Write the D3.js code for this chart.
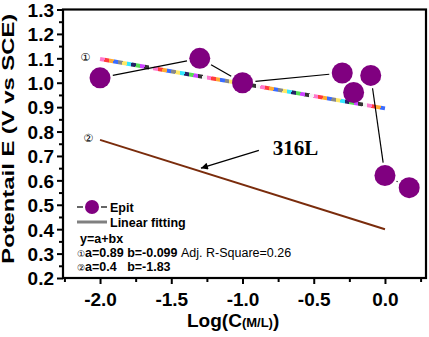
<!DOCTYPE html>
<html><head><meta charset="utf-8">
<script src="https://cdn.jsdelivr.net/npm/d3@7"></script>
<style>body{margin:0;background:#fff}svg{display:block}</style>
</head><body>
<script>
// data
const logC = [-2.0, -1.3, -1.0, -0.3, -0.22, -0.1, 0.0, 0.17];
const epit = [1.02, 1.10, 1.00, 1.04, 0.96, 1.03, 0.62, 0.57];
const fit1X = [-2.0, 0.0];
const fit1Y = [1.097, 0.895];
const fit2X = [-2.0, 0.0];
const fit2Y = [0.766, 0.40];
const xTicks = [-2.0, -1.5, -1.0, -0.5, 0.0];
const xTickLabels = ["-2.0", "-1.5", "-1.0", "-0.5", "0.0"];
const yTicks = [0.2, 0.3, 0.4, 0.5, 0.6, 0.7, 0.8, 0.9, 1.0, 1.1, 1.2, 1.3];
const yTickLabels = ["0.2","0.3","0.4","0.5","0.6","0.7","0.8","0.9","1.0","1.1","1.2","1.3"];
const xMinor = [-2.25, -1.75, -1.25, -0.75, -0.25, 0.25];
const yMinor = [0.25, 0.35, 0.45, 0.55, 0.65, 0.75, 0.85, 0.95, 1.05, 1.15, 1.25];

const W = 429, H = 337;
const L = 63, R = 426, T = 9.5, B = 278;
const svg = d3.select("body").append("svg").attr("width", W).attr("height", H);
const x = d3.scaleLinear().domain([-2.26, 0.288]).range([L, R]);
const y = d3.scaleLinear().domain([0.2, 1.3]).range([B, T]);
const font = "'Liberation Sans', Arial, sans-serif";

// axes ticks
const xAx = svg.append("g").attr("transform", `translate(0,${B})`)
  .call(d3.axisBottom(x).tickValues(xTicks).tickFormat((d, i) => xTickLabels[i]).tickSize(6).tickPadding(9));
const xAxm = svg.append("g").attr("transform", `translate(0,${B})`)
  .call(d3.axisBottom(x).tickValues(xMinor).tickFormat("").tickSize(4));
const yAx = svg.append("g").attr("transform", `translate(${L},0)`)
  .call(d3.axisLeft(y).tickValues(yTicks).tickFormat((d, i) => yTickLabels[i]).tickSize(6).tickPadding(3));
const yAxm = svg.append("g").attr("transform", `translate(${L},0)`)
  .call(d3.axisLeft(y).tickValues(yMinor).tickFormat("").tickSize(4));
[xAx, xAxm, yAx, yAxm].forEach(g => {
  g.select(".domain").remove();
  g.selectAll(".tick line").attr("stroke", "#000").attr("stroke-width", 2);
  g.selectAll("text").attr("fill", "#000").attr("font-family", font).attr("font-weight", "bold").attr("font-size", 19);
});
yAx.selectAll("text").attr("dy", "0.36em");

// frame
svg.append("rect").attr("x", L).attr("y", T).attr("width", R - L).attr("height", B - T)
  .attr("fill", "none").attr("stroke", "#000").attr("stroke-width", 2.2);

// axis titles
svg.append("text").attr("transform", `translate(14,${(T + B) / 2 - 5}) rotate(-90)`)
  .attr("text-anchor", "middle").attr("font-family", font).attr("font-weight", "bold")
  .attr("font-size", 17).attr("textLength", 250).attr("lengthAdjust", "spacingAndGlyphs")
  .text("Potentail E (V vs SCE)");
const xt = svg.append("text").attr("x", 187).attr("y", 327).attr("font-family", font)
  .attr("font-weight", "bold").attr("font-size", 19);
xt.append("tspan").text("Log(C");
xt.append("tspan").attr("font-size", 13).text("(M/L)");
xt.append("tspan").text(")");

// rainbow gradient for fit 1
const defs = svg.append("defs");
const grad = defs.append("linearGradient").attr("id", "rb").attr("gradientUnits", "userSpaceOnUse")
  .attr("x1", x(fit1X[0])).attr("y1", y(fit1Y[0])).attr("x2", x(fit1X[1])).attr("y2", y(fit1Y[1]));
const pal = ["#ff77cc", "#ffe866", "#333333", "#3a6cff", "#55dd55", "#ff3b3b", "#33e6ff", "#f4f4f4", "#888888", "#cc44ff", "#ffaa33", "#222266"];
const nSeg = 64;
for (let i = 0; i < nSeg; i++) {
  const c = pal[(i * 5) % pal.length];
  grad.append("stop").attr("offset", i / nSeg).attr("stop-color", c);
  grad.append("stop").attr("offset", (i + 1) / nSeg).attr("stop-color", c);
}
const line = d3.line().x(d => x(d[0])).y(d => y(d[1]));
svg.append("path").attr("d", line(d3.zip(fit1X, fit1Y))).attr("stroke", "url(#rb)")
  .attr("stroke-width", 4).attr("fill", "none");
svg.append("path").attr("d", line(d3.zip(fit2X, fit2Y))).attr("stroke", "#7a2c0c")
  .attr("stroke-width", 2).attr("fill", "none");

// connecting lines with gaps
const r = 10.5, gap = 2.5;
for (let i = 0; i < logC.length - 1; i++) {
  const x1 = x(logC[i]), y1 = y(epit[i]), x2 = x(logC[i + 1]), y2 = y(epit[i + 1]);
  const dx = x2 - x1, dy = y2 - y1, len = Math.hypot(dx, dy);
  const off = r + gap;
  if (len <= 2 * off) continue;
  const ux = dx / len, uy = dy / len;
  svg.append("line").attr("x1", x1 + ux * off).attr("y1", y1 + uy * off)
    .attr("x2", x2 - ux * off).attr("y2", y2 - uy * off).attr("stroke", "#000").attr("stroke-width", 1.2);
}
svg.selectAll("circle.pt").data(d3.zip(logC, epit)).enter().append("circle").attr("class", "pt")
  .attr("cx", d => x(d[0])).attr("cy", d => y(d[1])).attr("r", r).attr("fill", "#800080");

// labels
svg.append("text").attr("x", x(-2.105)).attr("y", y(1.104)).attr("dy", "0.35em").attr("text-anchor", "middle")
  .attr("font-family", "'DejaVu Sans'").attr("font-size", 11).text("①");
svg.append("text").attr("x", x(-2.084)).attr("y", y(0.772)).attr("dy", "0.35em").attr("text-anchor", "middle")
  .attr("font-family", "'DejaVu Sans'").attr("font-size", 11).text("②");
svg.append("text").attr("x", x(-0.787)).attr("y", y(0.703)).attr("font-family", "'Liberation Serif', 'Times New Roman', serif")
  .attr("font-weight", "bold").attr("font-size", 21).text("316L");
defs.append("marker").attr("id", "ah").attr("viewBox", "0 0 10 10").attr("refX", 10).attr("refY", 5)
  .attr("markerWidth", 9).attr("markerHeight", 7).attr("markerUnits", "userSpaceOnUse").attr("orient", "auto")
  .append("path").attr("d", "M0,0 L10,5 L0,10 Z").attr("fill", "#000");
svg.append("line").attr("x1", x(-0.885)).attr("y1", y(0.723)).attr("x2", x(-1.292)).attr("y2", y(0.65))
  .attr("stroke", "#000").attr("stroke-width", 1.2).attr("marker-end", "url(#ah)");

// legend
const lg = svg.append("g");
lg.append("line").attr("x1", 77).attr("x2", 83).attr("y1", 207).attr("y2", 207).attr("stroke", "#000").attr("stroke-width", 1.2);
lg.append("line").attr("x1", 101).attr("x2", 107).attr("y1", 207).attr("y2", 207).attr("stroke", "#000").attr("stroke-width", 1.2);
lg.append("circle").attr("cx", 92).attr("cy", 207).attr("r", 7).attr("fill", "#800080");
lg.append("text").attr("x", 110).attr("y", 211.5).attr("font-family", font).attr("font-weight", "bold").attr("font-size", 12.5).text("Epit");
lg.append("line").attr("x1", 77).attr("x2", 107).attr("y1", 222).attr("y2", 222).attr("stroke", "#808080").attr("stroke-width", 3);
lg.append("text").attr("x", 110).attr("y", 226.5).attr("font-family", font).attr("font-weight", "bold").attr("font-size", 12.5).text("Linear fitting");
lg.append("text").attr("x", 80).attr("y", 243).attr("font-family", font).attr("font-weight", "bold").attr("font-size", 12.5).text("y=a+bx");
const l1 = lg.append("text").attr("x", 77).attr("y", 257).attr("font-family", font).attr("font-size", 12.5);
l1.append("tspan").attr("font-family", "'DejaVu Sans'").attr("font-size", 9).text("①");
l1.append("tspan").attr("font-weight", "bold").text("a=0.89 b=-0.099 ");
l1.append("tspan").text("Adj. R-Square=0.26");
const l2 = lg.append("text").attr("x", 77).attr("y", 271).attr("font-family", font).attr("font-size", 12.5);
l2.append("tspan").attr("font-family", "'DejaVu Sans'").attr("font-size", 9).text("②");
l2.append("tspan").attr("font-weight", "bold").text("a=0.4\u00a0\u00a0\u00a0b=-1.83");
</script>
</body></html>
